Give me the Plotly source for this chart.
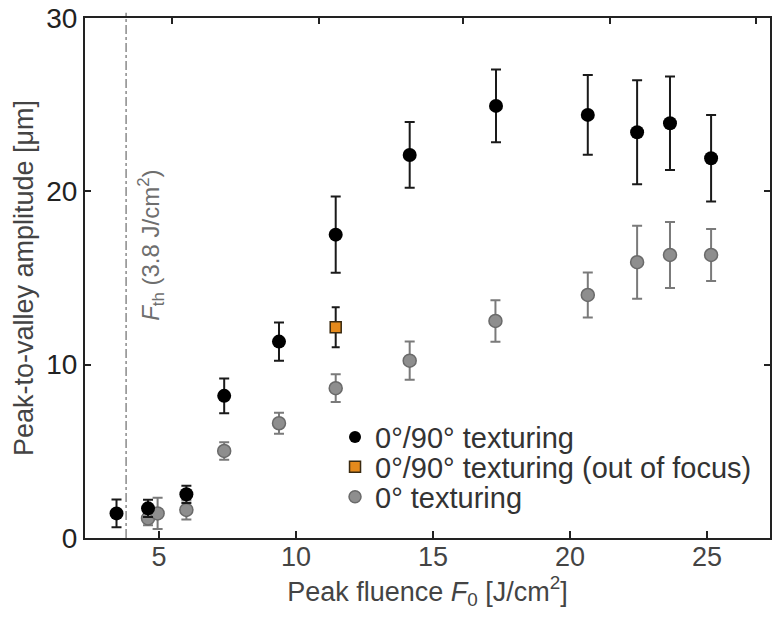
import plotly.graph_objects as go

# 0°/90° texturing (black)
fluence_cross = [3.45, 4.6, 6.0, 7.38, 9.38, 11.45, 14.15, 17.3, 20.65, 22.45, 23.65, 25.15]
amp_cross = [1.42, 1.71, 2.52, 8.2, 11.33, 17.5, 22.1, 24.93, 24.41, 23.41, 23.93, 21.91]
err_cross = [0.8, 0.5, 0.5, 1.0, 1.1, 2.2, 1.9, 2.1, 2.3, 3.0, 2.7, 2.5]

# 0°/90° texturing, out of focus (orange)
fluence_oof = [11.45]
amp_oof = [12.16]
err_oof = [1.15]

# 0° texturing (gray)
fluence_single = [4.6, 4.95, 6.0, 7.38, 9.38, 11.45, 14.15, 17.28, 20.65, 22.45, 23.65, 25.15]
amp_single = [1.13, 1.42, 1.62, 5.02, 6.62, 8.64, 10.23, 12.52, 14.02, 15.91, 16.33, 16.33]
err_single = [0.4, 0.9, 0.55, 0.5, 0.6, 0.8, 1.1, 1.2, 1.3, 2.1, 1.9, 1.5]

threshold = 3.8
top_ticks = [5.47, 10.84, 16.09, 21.46, 26.79]

FONT = "Liberation Sans, Arial, sans-serif"
BLACK = "black"
ORANGE = "#e58a1c"
GRAY = "#8e8e8e"

fig = go.Figure()

fig.add_trace(go.Scatter(
    x=fluence_single, y=amp_single, mode="markers", showlegend=False,
    marker=dict(color=GRAY, size=13, line=dict(color="#6a6a6a", width=1.5)),
    error_y=dict(type="data", array=err_single, color="#7a7a7a", thickness=2, width=5),
))
fig.add_trace(go.Scatter(
    x=fluence_cross, y=amp_cross, mode="markers", showlegend=False,
    marker=dict(color=BLACK, size=14),
    error_y=dict(type="data", array=err_cross, color="#1a1a1a", thickness=2, width=5),
))
fig.add_trace(go.Scatter(
    x=fluence_oof, y=amp_oof, mode="markers", showlegend=False,
    marker=dict(color=ORANGE, size=11, symbol="square", line=dict(color="#3a2a10", width=1.5)),
    error_y=dict(type="data", array=err_oof, color="#1a1a1a", thickness=2, width=4),
))

# legend entries, one legend each so the rows can sit close together
fig.add_trace(go.Scatter(x=[None], y=[None], mode="markers", name="0°/90° texturing",
                         legend="legend", marker=dict(color=BLACK, size=12)))
fig.add_trace(go.Scatter(x=[None], y=[None], mode="markers", name="0°/90° texturing (out of focus)",
                         legend="legend2",
                         marker=dict(color=ORANGE, size=11, symbol="square",
                                     line=dict(color="#3a2a10", width=1.5))))
fig.add_trace(go.Scatter(x=[None], y=[None], mode="markers", name="0° texturing",
                         legend="legend3",
                         marker=dict(color=GRAY, size=12, line=dict(color="#6a6a6a", width=1.5))))

# top axis ticks
fig.add_trace(go.Scatter(x=[None], y=[None], xaxis="x2", showlegend=False, hoverinfo="skip"))

fig.add_shape(type="line", xref="x", yref="paper", x0=threshold, x1=threshold, y0=0, y1=1.01,
              line=dict(color="#8a8a8a", width=1.5, dash="dashdot"))
fig.add_annotation(x=threshold + 0.9, y=16.9, xref="x", yref="y", showarrow=False, textangle=-90,
                   text="<i>F</i><sub>th</sub> (3.8 J/cm<sup>2</sup>)",
                   font=dict(family=FONT, size=24, color="#6e6e6e"))

leg = dict(x=0.365, xanchor="left", yanchor="middle", bgcolor="rgba(0,0,0,0)",
           font=dict(size=29, color="#333"), itemsizing="trace", borderwidth=0)

fig.update_layout(
    width=784, height=625,
    margin=dict(l=85, r=14, t=18, b=87),
    plot_bgcolor="white", paper_bgcolor="white",
    font=dict(family=FONT, color="#333"),
    xaxis=dict(range=[2.3, 27.3], tickvals=[5, 10, 15, 20, 25], ticks="inside", ticklen=7,
               tickwidth=2, tickcolor="#222", showline=True, linecolor="#222", linewidth=2,
               mirror=True, showgrid=False, zeroline=False, automargin=False,
               ticklabelstandoff=-6,
               tickfont=dict(size=27, color="#444"),
               title=dict(text="Peak fluence <i>F</i><sub>0</sub> [J/cm<sup>2</sup>]",
                          font=dict(size=27, color="#444"), standoff=0)),
    xaxis2=dict(range=[2.3, 27.3], overlaying="x", side="top", tickvals=top_ticks,
                showticklabels=False, ticks="inside", ticklen=6, tickwidth=2, tickcolor="#222",
                showgrid=False, zeroline=False, showline=False, automargin=False),
    yaxis=dict(range=[0, 30], tickvals=[0, 10, 20, 30], ticks="inside", ticklen=6,
               tickwidth=2, tickcolor="#222", showline=True, linecolor="#222", linewidth=2,
               mirror="ticks", showgrid=False, zeroline=False, automargin=False,
               ticklabeloverflow="allow",
               tickfont=dict(size=28, color="#222"),
               title=dict(text="Peak-to-valley amplitude [μm]",
                          font=dict(size=27, color="#444"), standoff=5)),
    legend=dict(leg, y=0.194),
    legend2=dict(leg, y=0.1365),
    legend3=dict(leg, y=0.079),
)

fig.write_html("out.html", config={"displayModeBar": False},
               post_script="document.body.style.margin = '0';")
